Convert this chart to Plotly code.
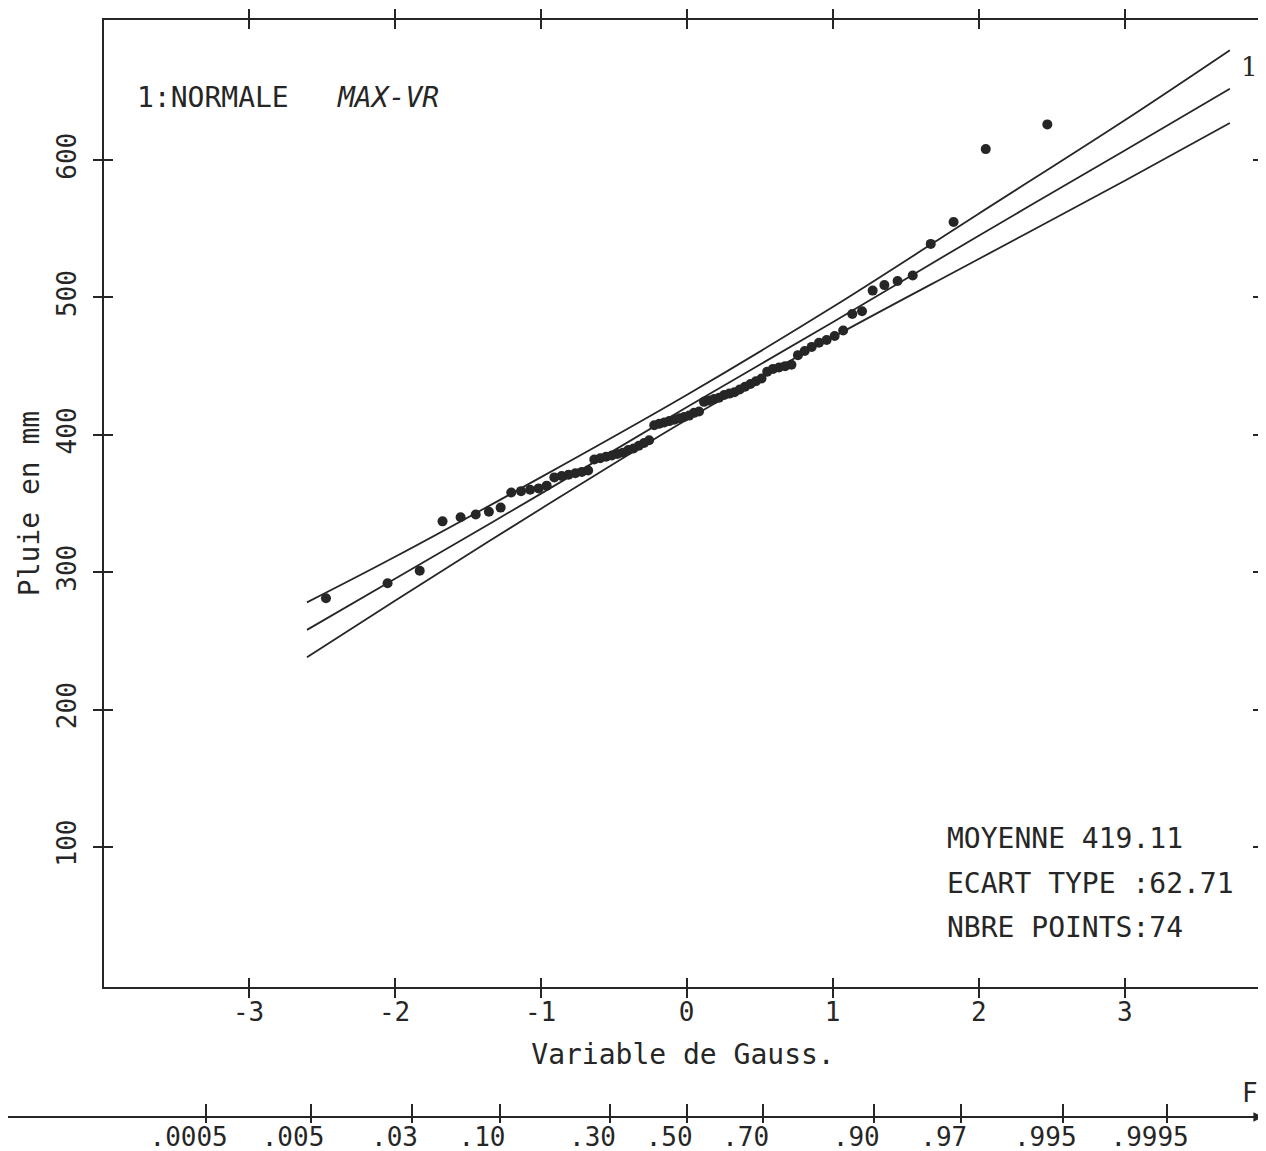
import plotly.graph_objects as go
from statistics import NormalDist

# ---------------- data ----------------
# sorted annual maxima (mm), 74 points
rain = [281, 292, 301, 337, 340, 342, 344, 347, 358, 359,
        360, 361, 363, 369, 370, 371, 372, 373, 374, 382,
        383, 384, 385, 386, 387, 389, 390, 392, 394, 396,
        407, 408, 409, 410, 411, 412, 413, 414, 416, 417,
        424, 425, 426, 427, 429, 430, 431, 433, 435, 437,
        439, 441, 446, 448, 449, 450, 451, 458, 461, 464,
        467, 469, 472, 476, 488, 490, 505, 509, 512, 516,
        539, 555, 608, 626]

# fitted line and confidence band (read along the Gauss variable)
band_z = [-2.6, -2.0, -1.0, 0.0, 1.0, 2.0, 3.0, 3.72]
center = [258, 295, 357, 420, 482, 545, 607, 652]
upper = [278, 311, 369, 429, 493, 561, 629, 680]
lower = [238, 279, 346, 411, 471, 528, 585, 627]

gauss_ticks = [-3, -2, -1, 0, 1, 2, 3]
gauss_labels = ["-3", "-2", "-1", "0", "1", "2", "3"]
y_ticks = [100, 200, 300, 400, 500, 600]
prob_ticks = [0.0005, 0.005, 0.03, 0.10, 0.30, 0.50, 0.70, 0.90, 0.97, 0.995, 0.9995]
prob_labels = [".0005", ".005", ".03", ".10", ".30", ".50", ".70", ".90", ".97", ".995", ".9995"]

stats_lines = ["MOYENNE 419.11", "ECART TYPE :62.71", "NBRE POINTS:74"]

# ---------------- derived positions ----------------
nd = NormalDist()
n = len(rain)
z_pts = [nd.inv_cdf((i + 0.5) / n) for i in range(n)]  # Hazen plotting positions
prob_z = [nd.inv_cdf(p) for p in prob_ticks]
LABEL_SHIFT = -0.12  # plotter printed the labels slightly left of their ticks
prob_label_z = [z + LABEL_SHIFT for z in prob_z]

INK = "#262626"
FONT = "DejaVu Sans Mono"
XR = [-3.99, 3.94]
YR = [-2, 702]

W, H = 1258, 1143
L, R, T, B = 96, 4, 12, 34
PW, PH = W - L - R, H - T - B


def px(xp):  # page x -> paper x
    return (xp - 8 - L) / PW


def py(yp):  # page y -> paper y
    return (H - B - (yp - 8)) / PH


fig = go.Figure()
for vals in (upper, center, lower):
    fig.add_trace(go.Scatter(x=band_z, y=vals, mode="lines", line=dict(color=INK, width=1.8, shape="spline"),
                             hoverinfo="skip", showlegend=False))
fig.add_trace(go.Scatter(x=z_pts, y=rain, mode="markers", marker=dict(color=INK, size=10),
                         showlegend=False))
# dummy traces to register overlay axes
for xa in ("x2", "x4", "x5"):
    fig.add_trace(go.Scatter(x=[None], y=[None], xaxis=xa, yaxis="y", showlegend=False, hoverinfo="skip"))
fig.add_trace(go.Scatter(x=[None], y=[None], xaxis="x3", yaxis="y3", showlegend=False, hoverinfo="skip"))

tickfont = dict(family=FONT, size=26, color=INK)
free_axis = dict(overlaying="x", anchor="free", position=0, side="bottom", range=XR, tickmode="array",
                 showline=False, showgrid=False, zeroline=False, automargin=False)
fig.update_layout(
    width=W, height=H,
    margin=dict(l=L, r=R, t=T, b=B),
    paper_bgcolor="white", plot_bgcolor="white",
    xaxis=dict(domain=[0, 1], anchor="y", range=XR, tickmode="array", tickvals=gauss_ticks,
               ticktext=gauss_labels, ticks="outside", ticklen=9, tickwidth=1.6, tickcolor=INK,
               mirror="ticks", showline=True, linewidth=2, linecolor=INK, showgrid=False, zeroline=False,
               tickfont=tickfont, automargin=False, ticklabelstandoff=-8,
               title=dict(text="Variable de Gauss.", font=dict(family=FONT, size=28, color=INK), standoff=18)),
    xaxis3=dict(overlaying="x", anchor="y3", range=XR, tickmode="array", tickvals=gauss_ticks,
                ticks="inside", ticklen=9, tickwidth=1.6, tickcolor=INK, mirror="ticks",
                showline=False, showgrid=False, zeroline=False, showticklabels=False),
    xaxis2=dict(**free_axis, tickvals=prob_z, ticks="inside", ticklen=13, tickwidth=1.6, tickcolor=INK,
                showticklabels=False),
    xaxis4=dict(**free_axis, tickvals=prob_z, ticks="outside", ticklen=5, tickwidth=1.6, tickcolor=INK,
                showticklabels=False),
    xaxis5=dict(**free_axis, tickvals=prob_label_z, ticktext=prob_labels, ticks="", tickfont=tickfont,
                ticklabelstandoff=2),
    yaxis=dict(domain=[0.1185, 1], anchor="x", range=YR, tickmode="array", tickvals=y_ticks,
               ticks="outside", ticklen=9, tickwidth=1.6, tickcolor=INK, mirror="ticks",
               showline=True, linewidth=2, linecolor=INK, showgrid=False, zeroline=False,
               tickangle=-90, tickfont=tickfont, ticklabelstandoff=7, automargin=False,
               title=dict(text="Pluie en mm", font=dict(family=FONT, size=28, color=INK), standoff=4)),
    yaxis3=dict(overlaying="y", anchor="x3", range=YR, tickmode="array", tickvals=y_ticks,
                ticks="inside", ticklen=9, tickwidth=1.6, tickcolor=INK, mirror="ticks",
                showline=False, showgrid=False, zeroline=False, showticklabels=False),
)

# probability axis line with arrow
fig.add_shape(type="line", xref="paper", yref="paper", x0=px(0), x1=px(1258), y0=0, y1=0,
              line=dict(color=INK, width=2))
fig.add_annotation(xref="paper", yref="paper", x=px(1263), y=0, ax=-18, ay=0, text="",
                   showarrow=True, arrowhead=2, arrowsize=1.2, arrowwidth=1.6, arrowcolor=INK)
fig.add_annotation(xref="paper", yref="paper", x=px(1250), y=py(1093), text="F", showarrow=False,
                   xanchor="center", yanchor="middle", font=dict(family=FONT, size=26, color=INK))

fig.add_annotation(xref="paper", yref="paper", x=px(135), y=py(98), text="1:NORMALE", showarrow=False,
                   xanchor="left", yanchor="middle", font=dict(family=FONT, size=28, color=INK))
fig.add_annotation(xref="paper", yref="paper", x=px(335), y=py(98), text="<i>MAX-VR</i>", showarrow=False,
                   xanchor="left", yanchor="middle", font=dict(family=FONT, size=28, color=INK))
fig.add_annotation(xref="paper", yref="paper", x=px(1249), y=py(67), text="1", showarrow=False,
                   xanchor="center", yanchor="middle", font=dict(family="DejaVu Serif", size=26, color=INK))

for k, line in enumerate(stats_lines):
    fig.add_annotation(xref="paper", yref="paper", x=px(945), y=py(838 + 45 * k),
                       text=line, showarrow=False, xanchor="left", yanchor="middle",
                       font=dict(family=FONT, size=28, color=INK))

fig.write_html("out.html")
